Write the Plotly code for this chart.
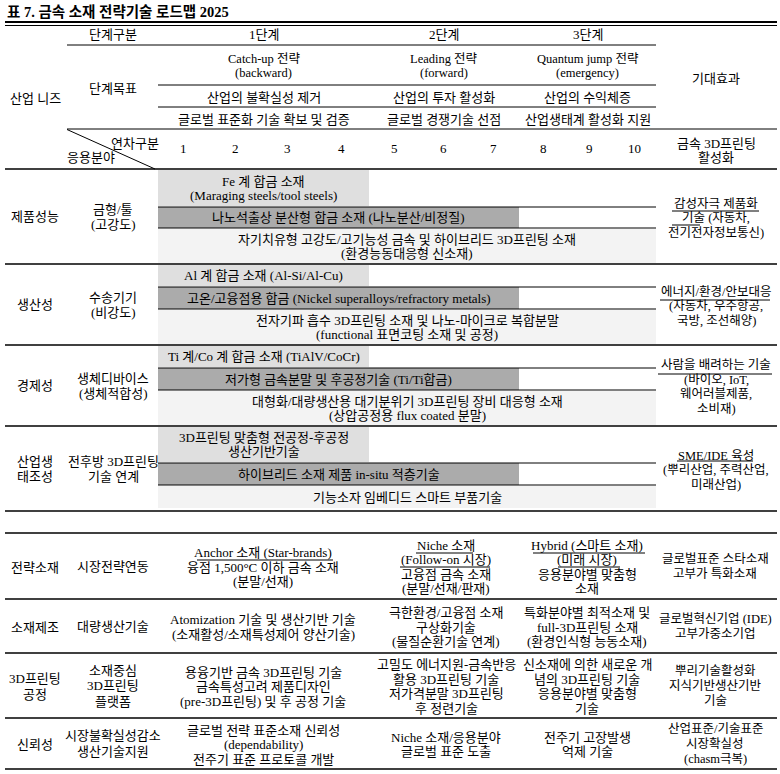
import plotly.graph_objects as go

# ---------------- data ----------------
TITLE = "표 7. 금속 소재 전략기술 로드맵 2025"

stage_names = ["1단계", "2단계", "3단계"]
stage_first_year = [1, 5, 8]
stage_last_year = [4, 7, 10]
stage_strategy = ["Catch-up 전략<br>(backward)", "Leading 전략<br>(forward)",
                  "Quantum jump 전략<br>(emergency)"]
stage_goal_industry = ["산업의 불확실성 제거", "산업의 투자 활성화", "산업의 수익체증"]
stage_goal_tech = ["글로벌 표준화 기술 확보 및 검증", "글로벌 경쟁기술 선점", "산업생태계 활성화 지원"]
years = [1, 2, 3, 4, 5, 6, 7, 8, 9, 10]

need_names = ["제품성능", "생산성", "경제성", "산업생<br>태조성"]
need_fields = ["금형/툴<br>(고강도)", "수송기기<br>(비강도)", "생체디바이스<br>(생체적합성)",
               "전후방 3D프린팅<br>기술 연계"]
alloy_tech = ["Fe 계 합금 소재<br>(Maraging steels/tool steels)",
              "Al 계 합금 소재 (Al-Si/Al-Cu)",
              "Ti 계/Co 계 합금 소재 (TiAlV/CoCr)",
              "3D프린팅 맞춤형 전공정-후공정<br>생산기반기술"]
mid_tech = ["나노석출상 분산형 합금 소재 (나노분산/비정질)",
            "고온/고융점용 합금 (Nickel superalloys/refractory metals)",
            "저가형 금속분말 및 후공정기술 (Ti/Ti합금)",
            "하이브리드 소재 제품 in-situ 적층기술"]
long_tech = ["자기치유형 고강도/고기능성 금속 및 하이브리드 3D프린팅 소재<br>(환경능동대응형 신소재)",
             "전자기파 흡수 3D프린팅 소재 및 나노-마이크로 복합분말<br>(functional 표면코팅 소재 및 공정)",
             "대형화/대량생산용 대기분위기 3D프린팅 장비 대응형 소재<br>(상압공정용 flux coated 분말)",
             "기능소자 임베디드 스마트 부품기술"]
tech_first_year = [1, 1, 1]
tech_last_year = [4, 7, 10]
need_effects = ["감성자극 제품화<br>기술 (자동차,<br>전기전자정보통신)",
                "에너지/환경/안보대응<br>(자동차, 우주항공,<br>국방, 조선해양)",
                "사람을 배려하는 기술<br>(바이오, IoT,<br>웨어러블제품,<br>소비재)",
                "SME/IDE 육성<br>(뿌리산업, 주력산업,<br>미래산업)"]

strat_names = ["전략소재", "소재제조", "3D프린팅<br>공정", "신뢰성"]
strat_links = ["시장전략연동", "대량생산기술", "소재중심<br>3D프린팅<br>플랫폼", "시장불확실성감소<br>생산기술지원"]
strat_stage1 = ["Anchor 소재 (Star-brands)<br>융점 1,500°C 이하 금속 소재<br>(분말/선재)",
                "Atomization 기술 및 생산기반 기술<br>(소재활성/소재특성제어 양산기술)",
                "용융기반 금속 3D프린팅 기술<br>금속특성고려 제품디자인<br>(pre-3D프린팅) 및 후 공정 기술",
                "글로벌 전략 표준소재 신뢰성<br>(dependability)<br>전주기 표준 프로토콜 개발"]
strat_stage2 = ["Niche 소재<br>(Follow-on 시장)<br>고융점 금속 소재<br>(분말/선재/판재)",
                "극한환경/고융점 소재<br>구상화기술<br>(물질순환기술 연계)",
                "고밀도 에너지원-금속반응<br>활용 3D프린팅 기술<br>저가격분말 3D프린팅<br>후 정련기술",
                "Niche 소재/응용분야<br>글로벌 표준 도출"]
strat_stage3 = ["Hybrid (스마트 소재)<br>(미래 시장)<br>응용분야별 맞춤형<br>소재",
                "특화분야별 최적소재 및<br>full-3D프린팅 소재<br>(환경인식형 능동소재)",
                "신소재에 의한 새로운 개<br>념의 3D프린팅 기술<br>응용분야별 맞춤형<br>기술",
                "전주기 고장발생<br>억제 기술"]
strat_effects = ["글로벌표준 스타소재<br>고부가 특화소재",
                 "글로벌혁신기업 (IDE)<br>고부가중소기업",
                 "뿌리기술활성화<br>지식기반생산기반<br>기술",
                 "산업표준/기술표준<br>시장확실성<br>(chasm극복)"]

# ---------------- layout constants ----------------
W, H = 780, 774
FONT = "Liberation Serif, Noto Sans CJK KR, serif"
FS = 13
year_edges = [158, 209, 261, 314, 369, 420, 467, 519, 567, 612, 656]
L, R = 5, 777
row_edges = [169, 264, 345, 426, 511]
tier_splits = [(207, 228), (287, 309), (368, 390), (463, 485)]
row2_edges = [533, 599, 653, 718, 769]
X_C1, X_C2, X_EFF = 35, 113, 716
X_S = [263, 446, 587]
tier_colors = ["#dfdfdf", "#ababab", "#f3f3f3"]

fig = go.Figure()
shapes = []
annots = []


def hline(y, x0=L, x1=R, w=1.3):
    shapes.append(dict(type="line", xref="x", yref="y", x0=x0, x1=x1, y0=y, y1=y,
                       line=dict(color="black", width=w)))


def text(x, yc, s, spacing=14.5, size=FS, bold=False):
    lines = s.split("<br>")
    n = len(lines)
    for i, ln in enumerate(lines):
        y = yc + (i - (n - 1) / 2) * spacing
        annots.append(dict(x=x, y=y, xref="x", yref="y", text=("<b>%s</b>" % ln) if bold else ln,
                           showarrow=False, xanchor="center", yanchor="middle",
                           font=dict(family=FONT, size=size, color="black")))


# bars (technology roadmap, spans in years)
for r in range(4):
    top, bot = row_edges[r], row_edges[r + 1]
    s1, s2 = tier_splits[r]
    bands = [(top + 1, s1 - 1), (s1, s2), (s2 + 1, bot - (3 if r == 3 else 1))]
    labels = [alloy_tech[r], mid_tech[r], long_tech[r]]
    for k in range(3):
        y0, y1 = bands[k]
        x0 = year_edges[tech_first_year[k] - 1]
        x1 = year_edges[tech_last_year[k]]
        fig.add_trace(go.Bar(orientation="h", y=[(y0 + y1) / 2], x=[x1 - x0], base=[x0],
                             width=[y1 - y0], marker=dict(color=tier_colors[k], line=dict(width=0)),
                             hoverinfo="skip", showlegend=False))
        text((x0 + x1) / 2, (y0 + y1) / 2, labels[k], spacing=14)
    hline(s1, year_edges[0], year_edges[-1], 1)
    hline(s2, year_edges[0], year_edges[-1], 1)
    rc = (top + bot) / 2
    text(X_C1, rc, need_names[r], spacing=15)
    text(X_C2, rc, need_fields[r], spacing=15)
    text(X_EFF, rc + 1.5, need_effects[r], spacing=14.5, size=12.5)

# title
annots.append(dict(x=L, y=12, xref="x", yref="y", text="<b>%s</b>" % TITLE, showarrow=False,
                   xanchor="left", yanchor="middle",
                   font=dict(family=FONT, size=14.5, color="black")))

# header lines
hline(22, w=2)
hline(25.5, w=1)
hline(45, 67, year_edges[-1], 1)
hline(85, year_edges[0], year_edges[-1], 1)
hline(107, year_edges[0], year_edges[-1], 1)
hline(129, 67, R, 1)
for y in row_edges:
    hline(y)
for y in row2_edges:
    hline(y)
shapes.append(dict(type="line", xref="x", yref="y", x0=67, y0=129.5, x1=155, y1=169,
                   line=dict(color="black", width=1)))

# header texts
text(X_C1, 98, "산업 니즈")
text(X_C2, 34, "단계구분")
text(X_C2, 88, "단계목표")
text(X_EFF, 78, "기대효과")
for i in range(3):
    xc = (year_edges[stage_first_year[i] - 1] + year_edges[stage_last_year[i]]) / 2
    text(xc, 34, stage_names[i])
    text(xc, 65.5, stage_strategy[i], spacing=14, size=12.5)
    text(xc, 97, stage_goal_industry[i])
    text(xc, 119, stage_goal_tech[i])
for yv in years:
    text((year_edges[yv - 1] + year_edges[yv]) / 2, 148, str(yv))
text(135, 143, "연차구분")
text(91, 157, "응용분야")
text(X_EFF, 150, "금속 3D프린팅<br>활성화", spacing=14)

# second table
for r in range(4):
    rc = (row2_edges[r] + row2_edges[r + 1]) / 2
    text(X_C1, rc + 1, strat_names[r], spacing=16)
    text(X_C2, rc, strat_links[r], spacing=15.5)
    text(X_S[0], rc + 1, strat_stage1[r], spacing=14.5)
    text(X_S[1], rc + 1, strat_stage2[r], spacing=14.5)
    text(X_S[2], rc + 1, strat_stage3[r], spacing=14.5)
    text(X_EFF - 1, rc, strat_effects[r], spacing=15, size=12.5)

# underlines
for x0, x1, y in [(672, 759, 211), (672, 700, 225), (660, 770, 300), (658, 772, 374),
                  (677, 753, 461), (197, 333, 560), (416, 473, 553), (400, 490, 567),
                  (533, 645, 553), (558, 620, 567)]:
    shapes.append(dict(type="line", xref="x", yref="y", x0=x0, x1=x1, y0=y, y1=y,
                       line=dict(color="black", width=1)))

fig.update_layout(
    width=W, height=H, margin=dict(l=0, r=0, t=0, b=0),
    plot_bgcolor="white", paper_bgcolor="white", barmode="overlay", bargap=0,
    xaxis=dict(range=[0, W], visible=False, fixedrange=True),
    yaxis=dict(range=[H, 0], visible=False, fixedrange=True),
    shapes=shapes, annotations=annots,
)
# let the figure fill the window exactly (no default page margin), no mode bar
fig.write_html("out.html", config={"displayModeBar": False},
               post_script="document.body.style.margin='0';document.body.style.overflow='hidden';")
